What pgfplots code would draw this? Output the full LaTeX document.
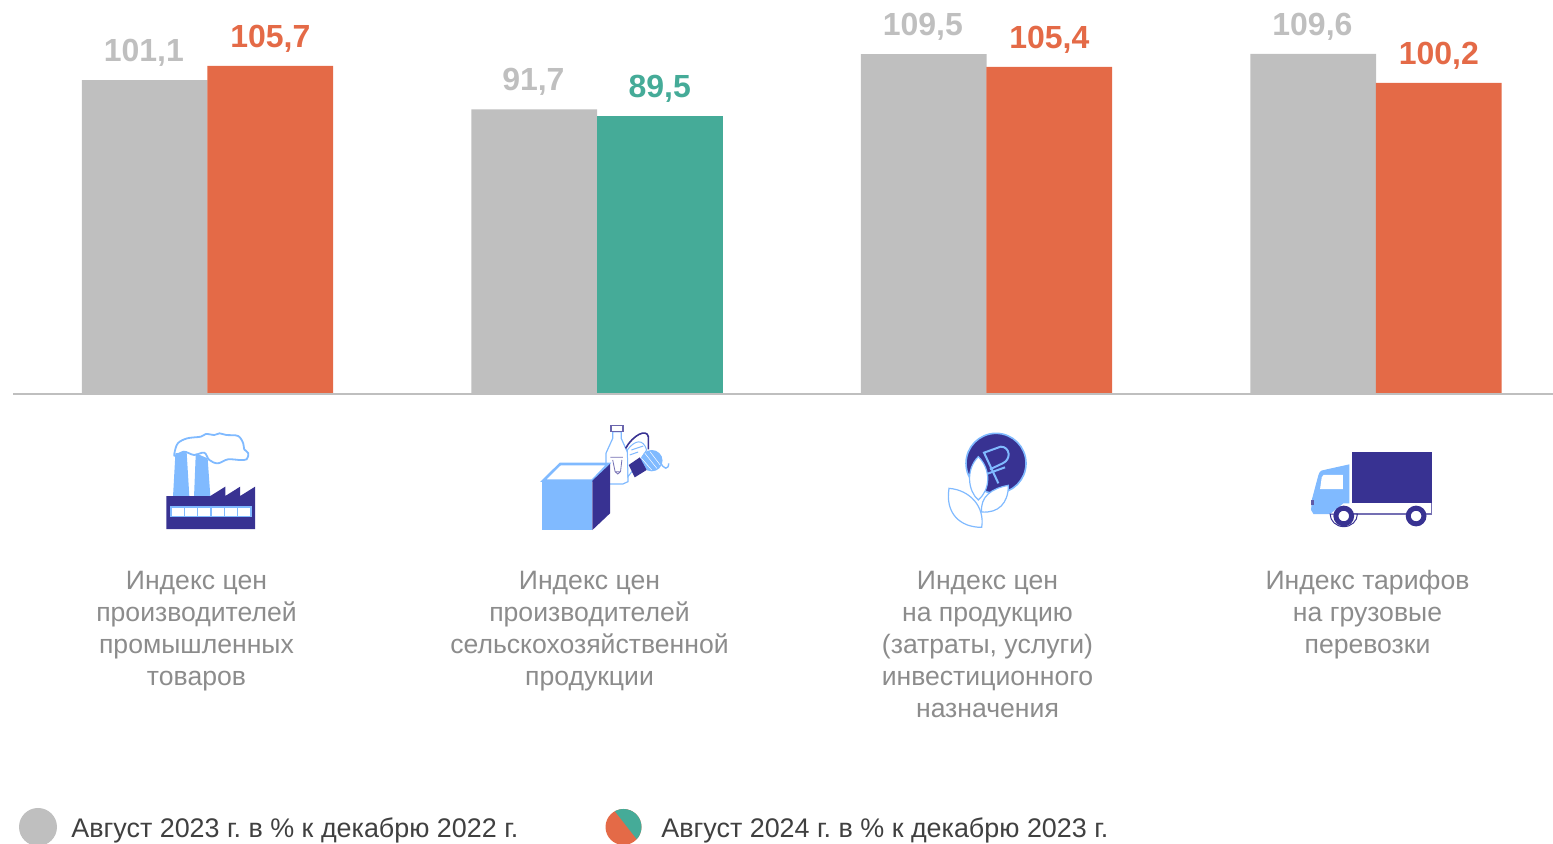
\documentclass[border=0pt]{standalone}
\usepackage{fontspec}
\setmainfont{Liberation Sans}
\usepackage{pgfplots}
\pgfplotsset{compat=1.18}
\definecolor{cgray}{HTML}{BFBFBF}
\definecolor{corange}{HTML}{E46A47}
\definecolor{cgreen}{HTML}{45AB98}
\definecolor{navy}{HTML}{383292}
\definecolor{lblue}{HTML}{80BAFF}
\definecolor{ltext}{HTML}{8C8C8C}
\definecolor{ltitle}{HTML}{404040}
\pgfplotsset{
  vbar/.style={ybar, bar width=62.85pt, draw=none, fill=#1, forget plot},
  vlab/.style 2 args={nodes near coords, every node near coord/.append style={
     font=\fontsize{16}{16}\selectfont\bfseries, text=#1, anchor=south, inner sep=0pt, yshift=6.6pt, xshift=#2,
     /pgf/number format/.cd, assume math mode=true, use comma, fixed, fixed zerofill, precision=1}}
}
\begin{document}
\frenchspacing
\begin{tikzpicture}
\path[use as bounding box] (0,0) rectangle (776.5pt,422pt);
\begin{axis}[at={(0,0)}, anchor=south west, scale only axis, width=776.5pt, height=422pt,
  xmin=0, xmax=1553, ymin=-145.6, ymax=127.0, hide axis, clip=false]
\addplot[vbar=cgray, bar shift=-31.4pt, vlab={cgray}{-31.8pt}] coordinates {(207.5,101.1)(597,91.7)(986.5,109.5)(1376,109.6)};
\addplot[vbar=corange, bar shift=31.4pt, vlab={corange}{31.4pt}] coordinates {(207.5,105.7)(986.5,105.4)(1376,100.2)};
\addplot[vbar=cgreen, bar shift=31.4pt, vlab={cgreen}{31.4pt}] coordinates {(597,89.5)};
\addplot[cgray, line width=1pt, forget plot] coordinates {(13,-0.3)(1553,-0.3)};
\end{axis}
\begin{scope}[x=0.5pt,y=-0.5pt,yshift=422pt]
\tikzset{lab/.style={anchor=north, align=center, text=ltext, inner sep=0pt, font=\fontsize{13.3}{16}\selectfont}}
\node[lab] at (196.5,571) {Индекс цен\\производителей\\промышленных\\товаров};
\node[lab] at (589.5,571) {Индекс цен\\производителей\\сельскохозяйственной\\продукции};
\node[lab] at (987.5,571) {Индекс цен\\на продукцию\\(затраты, услуги)\\инвестиционного\\назначения};
\node[lab] at (1367.5,570) {Индекс тарифов\\на грузовые\\перевозки};
% legend
\fill[cgray] (38,827) circle (19);
\node[anchor=west, inner sep=0pt, text=ltitle, font=\fontsize{13.45}{16}\selectfont] at (71,830.5) {Август 2023 г. в \% к декабрю 2022 г.};
\fill[corange] (623.5,827) circle (18);
\begin{scope}
\clip (623.5,827) circle (18);
\fill[cgreen] (610,805) -- (650,805) -- (650,850) -- (642,846) -- cycle;
\end{scope}
\node[anchor=west, inner sep=0pt, text=ltitle, font=\fontsize{13.45}{16}\selectfont] at (661,830.5) {Август 2024 г. в \% к декабрю 2023 г.};
\end{scope}
% factory + milk: zoom coordinates
\begin{scope}[yshift=422pt, xshift=75pt, yshift=-210pt, x=0.1695pt, y=-0.1667pt]
\draw[lblue, fill=white, line width=0.9pt] plot[smooth cycle, tension=0.55] coordinates {(72,100)(82,70)(110,55)(150,50)(165,42)(190,45)(205,40)(225,45)(260,48)(275,70)(278,88)(290,100)(285,118)(265,120)(230,118)(200,130)(175,120)(160,98)(130,105)(100,95)(75,108)};
\fill[lblue] (68,228)--(75,100)--(108,95)--(116,228)--cycle;
\fill[lblue] (130,228)--(135,100)--(170,115)--(178,228)--cycle;
\fill[navy] (48,228)--(178,228)--(222,200)--(222,228)--(266,200)--(266,228)--(310,200)--(310,327)--(48,327)--cycle;
\fill[lblue] (60,258) rectangle (300,292);
\foreach \a in {65,104,143,182,221,260}{\fill[white] (\a,264) rectangle ++(35,23);}
% milk
\draw[lblue, fill=white, line width=0.6pt] (1365,35)--(1365,55)--(1345,100)--(1345,185)--(1355,192)--(1395,192)--(1410,185)--(1410,100)--(1390,55)--(1390,35)--cycle;
\draw[navy!75, fill=white, line width=0.8pt] (1360,17) rectangle (1395,35);
\draw[navy!70, line width=0.4pt] (1358,112)--(1395,112) (1365,120)--(1372,155)--(1380,162)--(1388,155)--(1392,120) (1372,155)--(1388,155);
\draw[navy, line width=0.8pt] (1403,85) .. controls (1425,45) and (1465,25) .. (1470,50) -- (1470,88);
\draw[lblue, fill=white, line width=0.5pt] (1408,90) .. controls (1430,60) and (1455,55) .. (1465,90) -- (1440,130) -- (1410,170) -- cycle;
\draw[lblue, line width=0.5pt] (1420,90)--(1455,78) (1415,105)--(1440,96);
\fill[lblue] (1480,122) circle (32);
\draw[white, line width=0.25pt] (1460,100)--(1495,145) (1475,95)--(1505,135) (1450,115)--(1480,150);
\draw[lblue, line width=0.7pt] (1505,125) .. controls (1515,150) and (1530,150) .. (1530,130);
\fill[navy] (1412,135)--(1445,112)--(1465,150)--(1430,172)--cycle;
\fill[lblue] (1157,182)--(1305,182)--(1305,330)--(1157,330)--cycle;
\draw[lblue, fill=white, line width=1.3pt] (1160,182)--(1210,132)--(1352,132)--(1305,182)--cycle;
\fill[navy] (1305,182)--(1357,132)--(1357,280)--(1305,330)--cycle;
\end{scope}
% coin + truck
\begin{scope}[yshift=422pt, xshift=465pt, yshift=-210pt, x=0.1667pt, y=-0.1667pt]
\fill[navy] (198,130) circle (15pt);
\draw[lblue, line width=0.8pt] (198,130) circle (15pt);
\draw[lblue, line width=1pt] (205,190)--(162,98)--(212,80) .. controls (240,80) and (245,118) .. (218,130) -- (180,148) (170,162)--(225,142);
\draw[lblue, fill=white, line width=0.6pt] (145,110) .. controls (105,150) and (115,215) .. (145,240) .. controls (180,210) and (185,150) .. (145,110)--cycle;
\draw[lblue, fill=white, line width=0.6pt] (57,205) .. controls (120,210) and (165,260) .. (155,322) .. controls (90,322) and (45,280) .. (57,205)--cycle;
\draw[lblue, fill=white, line width=0.6pt] (155,276) .. controls (150,230) and (185,205) .. (235,196) .. controls (235,250) and (205,280) .. (155,276)--cycle;
% truck
\fill[navy] (1266,97) rectangle (1505,250);
\draw[navy!70, line width=0.7pt] (1266,282)--(1505,282)--(1505,250);
\fill[lblue] (1145,240)--(1165,165) .. controls (1168,150) and (1180,150) .. (1190,148) -- (1258,133)--(1258,250)--(1240,250)--(1200,282)--(1150,282)--(1143,270)--cycle;
\fill[white] (1180,165)--(1238,165)--(1238,207)--(1170,207)--(1175,172)--cycle;
\draw[navy, fill=white, line width=0.5pt] (1200,282) arc[start angle=180,end angle=0,x radius=41,y radius=38]--cycle;
\fill[navy!80] (1143,240) rectangle (1151,255);
\draw[navy, fill=white, line width=2.5pt] (1241,288) circle (23.5);
\draw[navy, fill=white, line width=2.5pt] (1458,288) circle (23.5);
\end{scope}
\end{tikzpicture}
\end{document}
